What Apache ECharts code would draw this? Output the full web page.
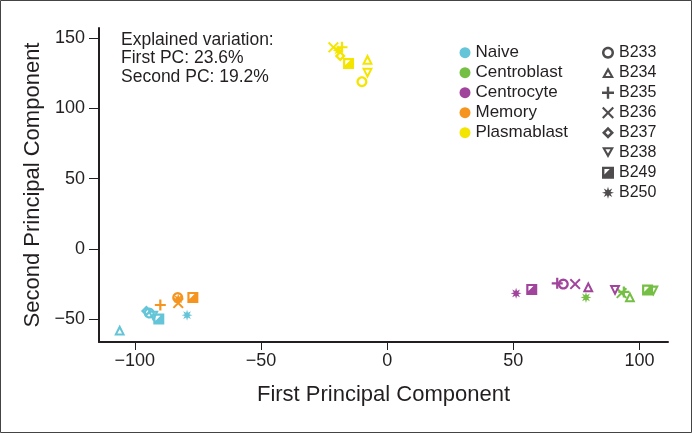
<!DOCTYPE html>
<html>
<head>
<meta charset="utf-8">
<script src="https://cdn.jsdelivr.net/npm/echarts@6/dist/echarts.min.js"></script>
<style>
  html, body { margin: 0; padding: 0; background: #fff; }
  #main { width: 692px; height: 433px; }
</style>
</head>
<body>
<div id="main"></div>
<script>
// ---- data ----
var cellTypes = ['Naive', 'Centroblast', 'Centrocyte', 'Memory', 'Plasmablast'];
var samples = ['B233', 'B234', 'B235', 'B236', 'B237', 'B238', 'B249', 'B250'];
var xTicks = [-100, -50, 0, 50, 100];
var yTicks = [-50, 0, 50, 100, 150];

// [PC1, PC2, sample]
var naivePts = [
  [-106, -57.6, 'B234'],
  [-95.4, -44.1, 'B237'],
  [-94.3, -45.5, 'B233'],
  [-92.7, -47.7, 'B238'],
  [-90.5, -49.8, 'B249'],
  [-79.3, -47, 'B250']
];
var centroblastPts = [
  [78.8, -34.4, 'B250'],
  [92.9, -31.3, 'B236'],
  [93.8, -30.5, 'B235'],
  [96.2, -33.9, 'B234'],
  [103.2, -29.2, 'B249'],
  [105.5, -29.9, 'B238']
];
var centrocytePts = [
  [51.1, -31.5, 'B250'],
  [57.3, -28.7, 'B249'],
  [67.4, -24.4, 'B235'],
  [69.8, -24.9, 'B233'],
  [74.5, -24.9, 'B236'],
  [79.7, -26.8, 'B234'],
  [90.3, -29.5, 'B238']
];
var memoryPts = [
  [-89.9, -39.8, 'B235'],
  [-83, -34.5, 'B233'],
  [-82.8, -35.6, 'B250'],
  [-82.8, -38.4, 'B236'],
  [-77, -34.4, 'B249']
];
var plasmablastPts = [
  [-21.3, 143.5, 'B236'],
  [-17.9, 143.5, 'B235'],
  [-19.4, 141.2, 'B250'],
  [-18.6, 137.3, 'B237'],
  [-15.3, 132, 'B249'],
  [-7.8, 134.9, 'B234'],
  [-7.8, 125, 'B238'],
  [-10, 119, 'B233']
];
var pointSets = [naivePts, centroblastPts, centrocytePts, memoryPts, plasmablastPts];
var typeColors = ['#64c5d8', '#74bf44', '#a1449c', '#f5951f', '#f4e500'];

// ---- symbol shapes ----
function ring(n, r1, r2) {
  var p = '', i, a;
  for (i = 0; i < n; i++) {
    a = i / n * Math.PI * 2;
    p += (i ? 'L' : 'M') + (10 + r1 * Math.cos(a)).toFixed(2) + ',' + (10 + r1 * Math.sin(a)).toFixed(2);
  }
  p += 'Z';
  for (i = 0; i < n; i++) {
    a = -i / n * Math.PI * 2;
    p += (i ? 'L' : 'M') + (10 + r2 * Math.cos(a)).toFixed(2) + ',' + (10 + r2 * Math.sin(a)).toFixed(2);
  }
  return p + 'Z';
}
function star(n, r1, r2) {
  var p = '', i, a, r;
  for (i = 0; i < n * 2; i++) {
    a = i / (n * 2) * Math.PI * 2 - Math.PI / 2;
    r = i % 2 ? r2 : r1;
    p += (i ? 'L' : 'M') + (10 + r * Math.cos(a)).toFixed(2) + ',' + (10 + r * Math.sin(a)).toFixed(2);
  }
  return p + 'Z';
}
var shapes = {
  B233: 'path://' + ring(32, 10, 5.8),
  B234: 'path://M10,0L20,18L0,18Z M10,7.5L5.8,14.6L14.2,14.6Z',
  B235: 'path://M8,0H12V8H20V12H12V20H8V12H0V8H8Z',
  B236: 'path://M0,2.5L2.5,0L10,7.5L17.5,0L20,2.5L12.5,10L20,17.5L17.5,20L10,12.5L2.5,20L0,17.5L7.5,10Z',
  B237: 'path://M10,0L20,10L10,20L0,10Z M10,6L6,10L10,14L14,10Z',
  B238: 'path://M0,0L20,0L10,18Z M5.8,3.4L10,10.5L14.2,3.4Z',
  B249: 'path://M0,0H20V20H0Z M4,4L4,13L13,4Z',
  B250: 'path://' + star(8, 10, 4.5)
};

var chart = echarts.init(document.getElementById('main'));
var font = 'Liberation Sans';
var ink = '#231f20';

var series = [];
cellTypes.forEach(function (name, k) {
  series.push({
    name: name,
    type: 'scatter',
    symbolSize: 11,
    itemStyle: { color: typeColors[k], opacity: 1 },
    emphasis: { disabled: true },
    data: pointSets[k].map(function (d) {
      return { value: [d[0], d[1]], name: d[2], symbol: shapes[d[2]] };
    })
  });
});
samples.forEach(function (s) {
  series.push({
    name: s,
    type: 'scatter',
    symbol: shapes[s],
    symbolSize: 11,
    itemStyle: { color: ink },
    data: []
  });
});

var minus = function (v) { return String(v).replace('-', '\u2212'); };

var option = {
  animation: false,
  backgroundColor: '#fff',
  grid: { left: 99, right: 24, top: 28, bottom: 91 },
  xAxis: {
    type: 'value',
    min: -114.2,
    max: 111.3,
    name: 'First Principal Component',
    nameLocation: 'middle',
    nameGap: 42,
    nameTextStyle: { fontFamily: font, fontSize: 22, color: ink },
    axisLine: { onZero: false, lineStyle: { color: ink, width: 2 } },
    axisTick: { customValues: xTicks, length: 8, lineStyle: { color: ink, width: 1 } },
    axisLabel: { customValues: xTicks, formatter: minus, margin: 10, fontFamily: font, fontSize: 18, color: ink },
    splitLine: { show: false }
  },
  yAxis: {
    type: 'value',
    min: -66.1,
    max: 157.2,
    name: 'Second Principal Component',
    nameLocation: 'middle',
    nameGap: 50,
    nameTextStyle: { fontFamily: font, fontSize: 22, color: ink },
    axisLine: { show: true, onZero: false, lineStyle: { color: ink, width: 2 } },
    axisTick: { show: true, customValues: yTicks, length: 10, lineStyle: { color: ink, width: 1 } },
    axisLabel: { customValues: yTicks, formatter: minus, margin: 14, fontFamily: font, fontSize: 18, color: ink },
    splitLine: { show: false }
  },
  legend: [
    {
      orient: 'vertical',
      left: 454.5,
      top: 37.7,
      itemWidth: 11,
      itemHeight: 11,
      itemGap: 0,
      icon: 'circle',
      selectedMode: false,
      textStyle: { fontFamily: font, fontSize: 17, color: ink, lineHeight: 20 },
      data: cellTypes
    },
    {
      orient: 'vertical',
      left: 597,
      top: 37.7,
      itemWidth: 12,
      itemHeight: 12,
      itemGap: 0,
      selectedMode: false,
      textStyle: { fontFamily: font, fontSize: 16, color: ink, lineHeight: 20 },
      data: samples.map(function (s) { return { name: s, icon: shapes[s] }; })
    }
  ],
  graphic: [
    {
      type: 'text',
      left: 121,
      top: 31,
      style: {
        text: 'Explained variation:\nFirst PC: 23.6%\nSecond PC: 19.2%',
        font: '17.5px "Liberation Sans"',
        lineHeight: 18.3,
        fill: ink
      }
    },
    {
      type: 'rect',
      shape: { x: 0.5, y: 0.5, width: 691, height: 432 },
      style: { fill: 'none', stroke: '#444', lineWidth: 1 },
      silent: true
    }
  ],
  series: series
};

option && chart.setOption(option);
window.addEventListener('resize', chart.resize);
</script>
</body>
</html>
